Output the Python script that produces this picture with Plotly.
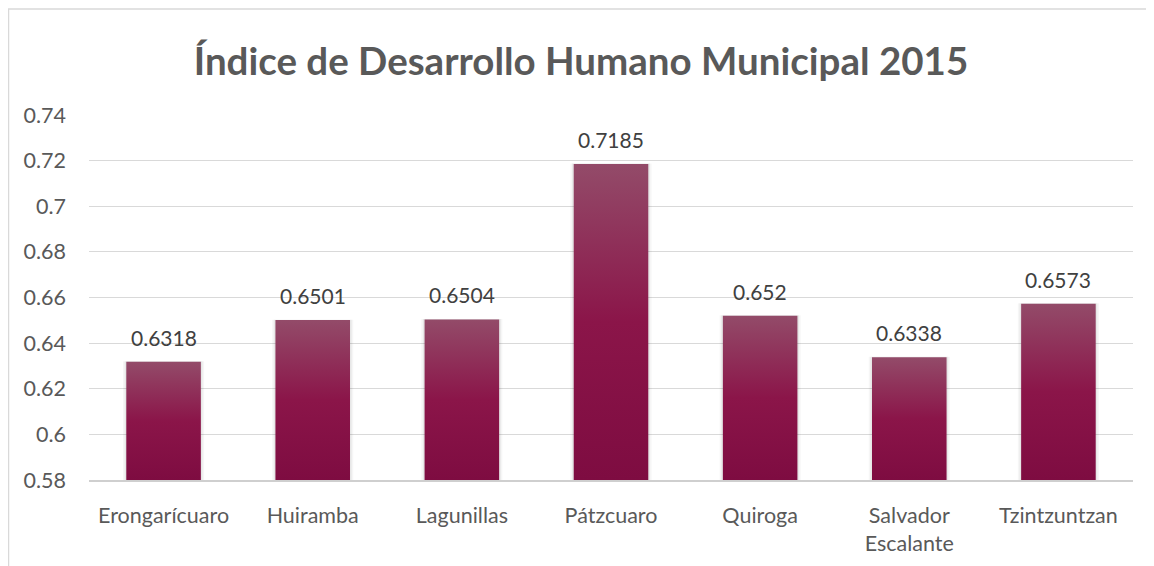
import plotly.graph_objects as go

categories = ["Erongarícuaro", "Huiramba", "Lagunillas", "Pátzcuaro", "Quiroga", "Salvador<br>Escalante", "Tzintzuntzan"]
values = [0.6318, 0.6501, 0.6504, 0.7185, 0.652, 0.6338, 0.6573]
y_ticks = [0.58, 0.6, 0.62, 0.64, 0.66, 0.68, 0.7, 0.72, 0.74]
y_tick_labels = ["0.58", "0.6", "0.62", "0.64", "0.66", "0.68", "0.7", "0.72", "0.74"]
title = "Índice de Desarrollo Humano Municipal 2015"

FONT = "Lato"
GREY = "#595959"
y_min, y_max = 0.58, 0.74
half = 0.25

W, H = 1146, 558
L, R, T, B = 81, 21, 107, 86
PW, PH = W - L - R, H - T - B

fig = go.Figure()
for i, v in enumerate(values):
    xs = [i - half, i - half, i + half, i + half, i - half]
    ys = [y_min, v, v, y_min, y_min]
    # soft shadow (two faint layers around the bar)
    for grow, alpha in [(0.022, 0.035), (0.011, 0.06)]:
        sx = [i - half - grow, i - half - grow, i + half + grow, i + half + grow, i - half - grow]
        sy = [y_min - 0.0008, v + 0.0002, v + 0.0002, y_min - 0.0008, y_min - 0.0008]
        fig.add_trace(go.Scatter(
            x=sx, y=sy, fill="toself", mode="lines", line=dict(width=0),
            fillcolor=f"rgba(0,0,0,{alpha})", hoverinfo="skip", showlegend=False,
            cliponaxis=False))
    fig.add_trace(go.Scatter(
        x=xs, y=ys, fill="toself", mode="lines", line=dict(width=0),
        fillgradient=dict(type="vertical",
                          colorscale=[[0, "#7E0C41"], [0.5, "#8B1549"], [1, "#934B69"]]),
        name=categories[i], showlegend=False))
    fig.add_annotation(x=i, y=v, text=str(v), showarrow=False,
                       yanchor="bottom", yshift=10,
                       font=dict(family=FONT, size=21, color="#404040"))

fig.update_layout(
    width=W, height=H,
    margin=dict(l=L, r=R, t=T, b=B, autoexpand=False),
    paper_bgcolor="white", plot_bgcolor="white",
    title=dict(text="<b>" + title + "</b>", x=0.5, xanchor="center",
               y=1 - 54 / H, yanchor="middle",
               font=dict(family=FONT, size=38.5, color=GREY)),
    xaxis=dict(range=[-0.5, 6.5], tickvals=list(range(len(categories))),
               ticktext=categories, showgrid=False, zeroline=False,
               showline=True, linecolor="#CFCFCF", linewidth=1.5,
               ticks="", ticklabelstandoff=15, automargin=False,
               tickfont=dict(family=FONT, size=21.5, color=GREY)),
    yaxis=dict(range=[y_min, y_max], tickvals=y_ticks, ticktext=y_tick_labels,
               showgrid=True, gridcolor="#D9D9D9", gridwidth=1,
               zeroline=False, showline=False, ticks="", ticklabelstandoff=22,
               automargin=False,
               tickfont=dict(family=FONT, size=21.5, color=GREY)),
    shapes=[dict(type="rect", xref="paper", yref="paper",
                 x0=(0.5 - L) / PW, x1=(W + 40 - L) / PW,
                 y0=-0.4, y1=(T + PH - 1) / PH,
                 line=dict(color="#D9D9D9", width=1.5), fillcolor="rgba(0,0,0,0)",
                 layer="below")],
)

fig.write_html("out.html")
